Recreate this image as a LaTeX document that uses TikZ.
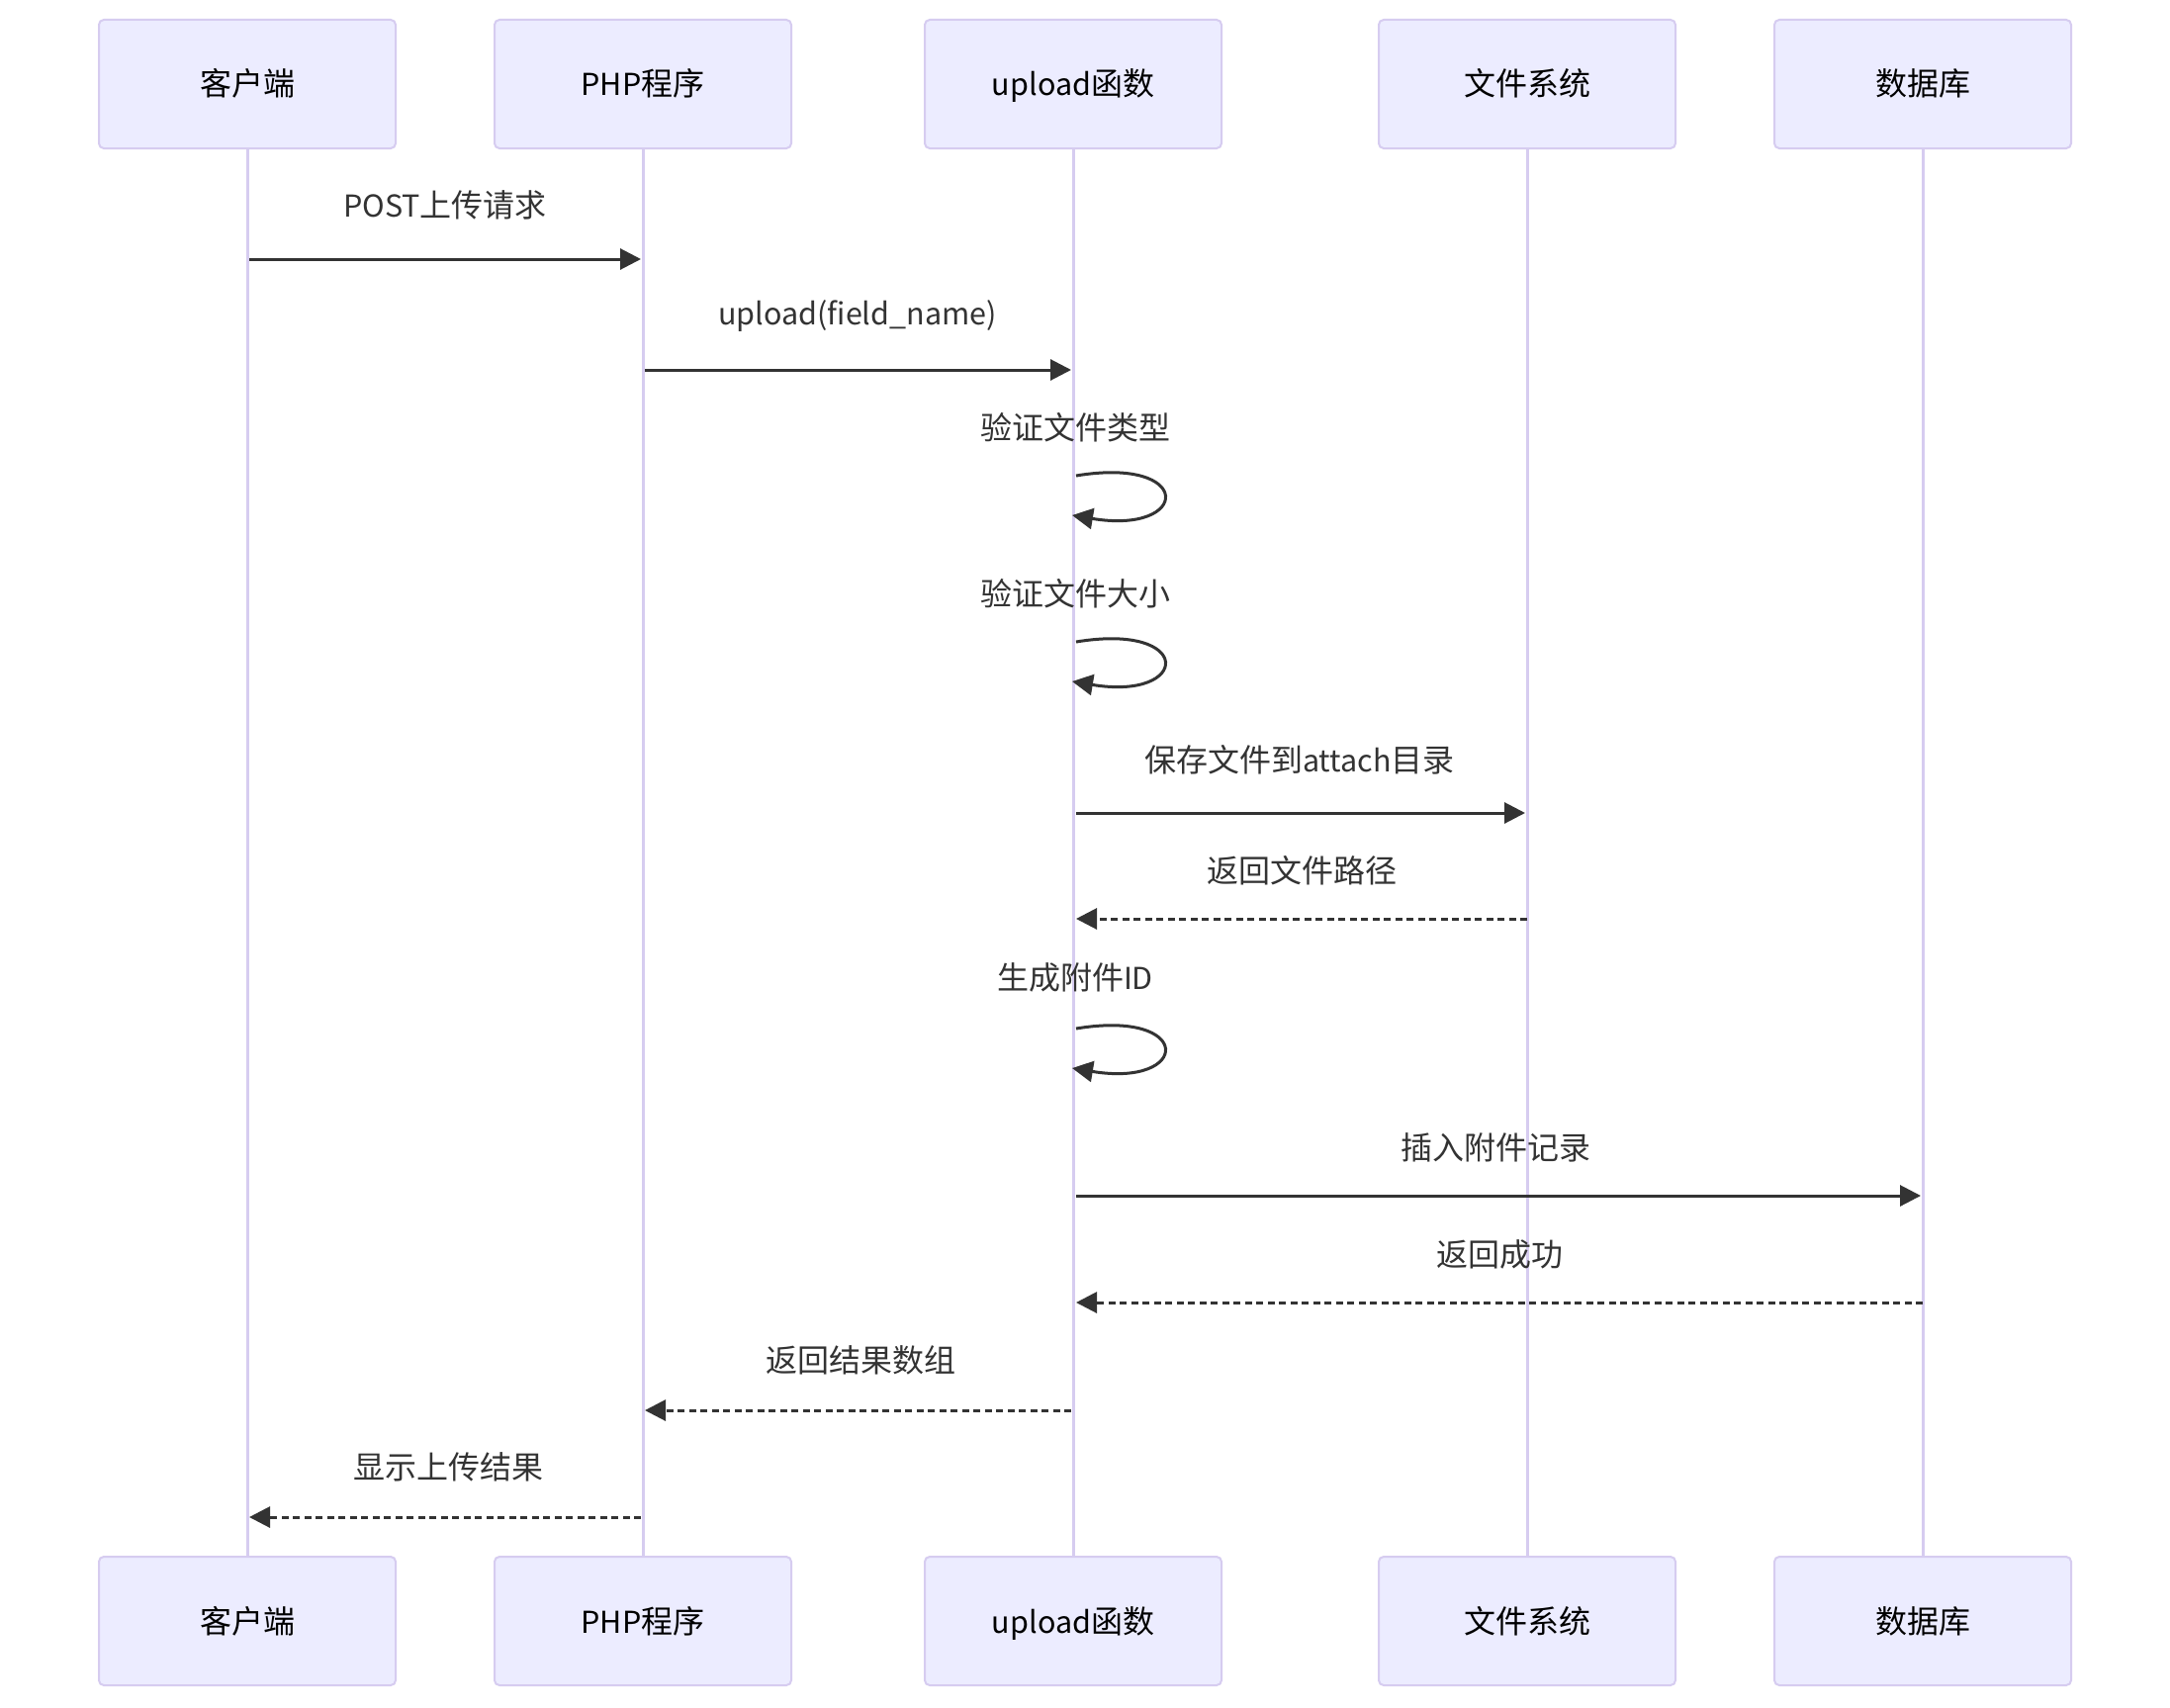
\documentclass[tikz,border=0pt]{standalone}
\usepackage{fontspec}
\setmainfont{Noto Sans CJK SC}
\usetikzlibrary{arrows.meta}
\definecolor{actorfill}{HTML}{ECECFF}
\definecolor{actorline}{HTML}{D6CCF0}
\definecolor{sig}{HTML}{333333}
% Latin runs are set a little smaller than the CJK text
\newcommand{\lat}[1]{{\fontsize{30.5}{38}\selectfont #1}}

\begin{document}
\begin{tikzpicture}[x=1pt,y=-1pt,
  actor/.style={draw=actorline, fill=actorfill, line width=2pt, rounded corners=5pt,
    minimum width=300pt, minimum height=130pt, inner sep=0pt,
    text height=28pt, text depth=4pt,
    font=\fontsize{32}{38}\selectfont, text=black},
  life/.style={draw=actorline, line width=3pt},
  msg/.style={draw=sig, line width=3pt, -{Triangle[length=21pt,width=21pt]}},
  ret/.style={msg, dash pattern=on 7pt off 4.5pt},
  lbl/.style={font=\fontsize{32}{38}\selectfont, text=sig, inner sep=0pt}
]
\fill[white] (0,0) rectangle (2194,1726);
\path[use as bounding box] (0,0) rectangle (2194,1726);

% participants, top row
\node[actor] (a1) at (250,85)  {客户端};
\node[actor] (a2) at (650,85)  {\lat{PHP}程序};
\node[actor] (a3) at (1085,85) {\lat{upload}函数};
\node[actor] (a4) at (1544,85) {文件系统};
\node[actor] (a5) at (1944,85) {数据库};
% participants, bottom row
\node[actor] (b1) at (250,1639)  {客户端};
\node[actor] (b2) at (650,1639)  {\lat{PHP}程序};
\node[actor] (b3) at (1085,1639) {\lat{upload}函数};
\node[actor] (b4) at (1544,1639) {文件系统};
\node[actor] (b5) at (1944,1639) {数据库};

% lifelines
\foreach \i in {1,...,5}{
  \draw[life] (a\i.south) -- (b\i.north);
}

% 1: client -> PHP
\node[lbl] (l1) at (450,207) {\lat{POST}上传请求};
\draw[msg] ([xshift=2pt]a1 |- 0,262) -- ([xshift=-2pt]a2 |- 0,262);

% 2: PHP -> upload
\node[lbl] (l2) at (867,320) {\lat{upload(field\_name)}};
\draw[msg] ([xshift=2pt]a2 |- 0,374) -- ([xshift=-2pt]a3 |- 0,374);

% 3: self check of file type
\node[lbl] (l3) at (1087,432) {验证文件类型};
\coordinate (s3) at ([xshift=3pt]a3 |- 0,481);
\draw[msg] (s3) .. controls +(120,-20) and +(120,20) .. ([xshift=-1pt]a3 |- 0,521);

% 4: self check of file size
\node[lbl] (l4) at (1087,600) {验证文件大小};
\coordinate (s4) at ([xshift=3pt]a3 |- 0,649);
\draw[msg] (s4) .. controls +(120,-20) and +(120,20) .. ([xshift=-1pt]a3 |- 0,689);

% 5: upload -> file system
\node[lbl] (l5) at (1314,768) {保存文件到\lat{attach}目录};
\draw[msg] ([xshift=3pt]a3 |- 0,822) -- ([xshift=-2pt]a4 |- 0,822);

% 6: file system -> upload
\node[lbl] (l6) at (1316,880) {返回文件路径};
\draw[ret] (a4 |- 0,929) -- ([xshift=3pt]a3 |- 0,929);

% 7: self, attachment id
\node[lbl] (l7) at (1087,988) {生成附件\lat{ID}};
\coordinate (s7) at ([xshift=3pt]a3 |- 0,1040);
\draw[msg] (s7) .. controls +(120,-20) and +(120,20) .. ([xshift=-1pt]a3 |- 0,1080);

% 8: upload -> database
\node[lbl] (l8) at (1512,1160) {插入附件记录};
\draw[msg] ([xshift=3pt]a3 |- 0,1209) -- ([xshift=-2pt]a5 |- 0,1209);

% 9: database -> upload
\node[lbl] (l9) at (1516,1268) {返回成功};
\draw[ret] (a5 |- 0,1317) -- ([xshift=3pt]a3 |- 0,1317);

% 10: upload -> PHP
\node[lbl] (l10) at (870,1375) {返回结果数组};
\draw[ret] ([xshift=-2pt]a3 |- 0,1426) -- ([xshift=2pt]a2 |- 0,1426);

% 11: PHP -> client
\node[lbl] (l11) at (453,1483) {显示上传结果};
\draw[ret] ([xshift=-2pt]a2 |- 0,1534) -- ([xshift=2pt]a1 |- 0,1534);
\end{tikzpicture}
\end{document}
